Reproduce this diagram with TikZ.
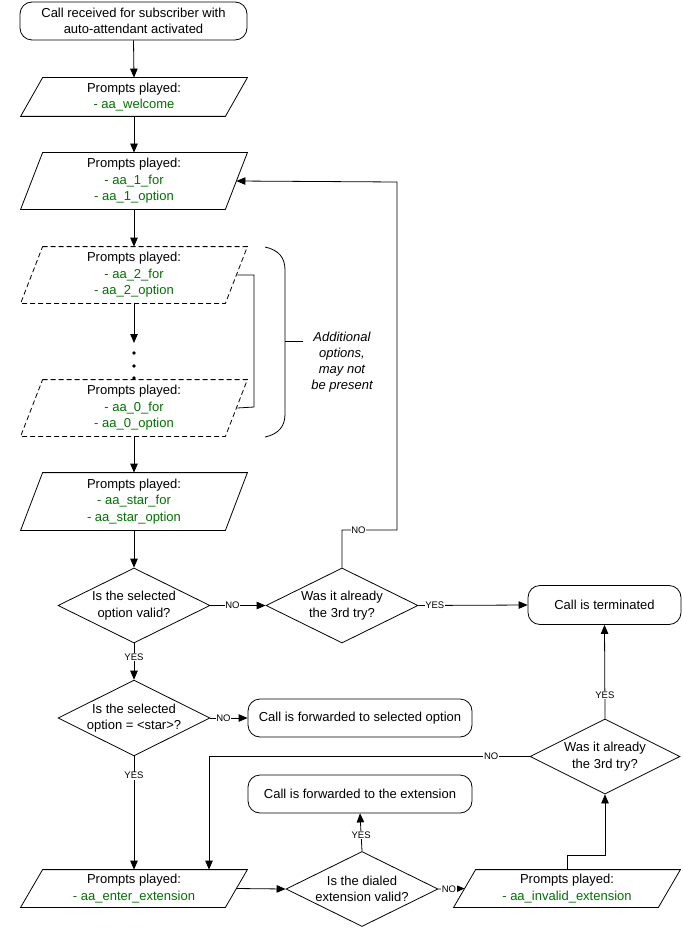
\documentclass[tikz,border=0pt]{standalone}
\usepackage{fontspec}
\setmainfont{Liberation Sans}
\usetikzlibrary{arrows.meta,shapes.geometric,calc}
\definecolor{prgreen}{RGB}{0,112,0}
\newcommand\drawpara[2][]{\draw[#1] ([xshift=22pt]#2.north west) -- (#2.north east) -- ([xshift=-22pt]#2.south east) -- (#2.south west) -- cycle;}
\begin{document}
\begin{tikzpicture}[x=1pt,y=-1pt,
  line width=0.8pt,
  every node/.style={font=\fontsize{13}{16.5}\selectfont, align=center},
  rbox/.style={draw, rounded corners=12pt, inner sep=0pt},
  parabox/.style={rectangle, inner sep=0pt, minimum width=226pt},
  dbox/.style={diamond, draw, inner sep=0pt, aspect=2},
  arr/.style={-{Triangle[length=9pt,width=7.5pt]}},
  lbl/.style={fill=white, inner sep=0.6pt, font=\fontsize{9.5}{10}\selectfont},
  dashpara/.style={dash pattern=on 5pt off 3pt}
]
\useasboundingbox (0,0) rectangle (682,928);

% nodes
\node[rbox, minimum width=227pt, minimum height=38pt] (start) at (133.5,21) {Call received for subscriber with\\auto-attendant activated};
\node[parabox, minimum height=38pt] (p1) at (134,97) {Prompts played:\\\textcolor{prgreen}{- aa\_welcome}};
\node[parabox, minimum height=56pt] (p2) at (134,181) {Prompts played:\\\textcolor{prgreen}{- aa\_1\_for}\\\textcolor{prgreen}{- aa\_1\_option}};
\node[parabox, minimum height=56pt] (p3) at (134,275) {Prompts played:\\\textcolor{prgreen}{- aa\_2\_for}\\\textcolor{prgreen}{- aa\_2\_option}};
\node[parabox, minimum height=56pt] (p4) at (134,408) {Prompts played:\\\textcolor{prgreen}{- aa\_0\_for}\\\textcolor{prgreen}{- aa\_0\_option}};
\node[parabox, minimum height=57pt] (p5) at (134,501.5) {Prompts played:\\\textcolor{prgreen}{- aa\_star\_for}\\\textcolor{prgreen}{- aa\_star\_option}};
\node[dbox, minimum width=152pt, minimum height=75pt] (d1) at (134,605.5) {Is the selected\\option valid?};
\node[dbox, minimum width=152pt, minimum height=75pt] (d2) at (342,605.5) {Was it already\\the 3rd try?};
\node[rbox, minimum width=153pt, minimum height=39pt] (term) at (604.5,605) {Call is terminated};
\node[dbox, minimum width=152pt, minimum height=75pt] (d3) at (134,718) {Is the selected\\option = <star>?};
\node[rbox, minimum width=224pt, minimum height=38pt] (fwdopt) at (360,718) {Call is forwarded to selected option};
\node[rbox, minimum width=224pt, minimum height=38pt] (fwdext) at (360,794) {Call is forwarded to the extension};
\node[parabox, minimum height=37pt] (p6) at (134,888.5) {Prompts played:\\\textcolor{prgreen}{- aa\_enter\_extension}};
\node[dbox, minimum width=152pt, minimum height=75pt] (d4) at (362,889) {Is the dialed\\extension valid?};
\node[parabox, minimum height=37pt] (p7) at (567,888.5) {Prompts played:\\\textcolor{prgreen}{- aa\_invalid\_extension}};
\node[dbox, minimum width=150pt, minimum height=75pt] (d5) at (605,756.5) {Was it already\\the 3rd try?};
\node[font=\itshape\fontsize{13}{16}\selectfont] (note) at (342,362) {Additional\\options,\\may not\\be present};

% parallelogram outlines
\drawpara{p1}
\drawpara{p2}
\drawpara[dashpara]{p3}
\drawpara[dashpara]{p4}
\drawpara{p5}
\drawpara{p6}
\drawpara{p7}

% helper coordinates
\coordinate (dotarrow) at (134,343);
\coordinate (loopA) at (342,530);
\coordinate (loopB) at (397,530);
\coordinate (loopC) at (397,182);
\coordinate (backA) at (209,756.5);
\coordinate (bendA) at (567,855);
\coordinate (bendB) at (605,855);
\coordinate (tick) at (303,341);

% connectors
\draw[arr] (start.south) -- (p1.north);
\draw[arr] (p1.south) -- (p2.north);
\draw[arr] (p2.south) -- (p3.north);
\draw[arr] (p3.south) -- (dotarrow);
\fill (134,353) circle (1.8pt) (134,366) circle (1.8pt) (134,378) circle (1.8pt);
\draw[arr] (p4.south) -- (p5.north);
\draw[arr] (p5.south) -- (d1.north);
\draw[arr] (d1.east) -- node[lbl, pos=0.4]{NO} (d2.west);
\draw[arr] (d2.east) -- node[lbl, pos=0.15]{YES} (term.west);
\draw[arr] (d2.north) -- (loopA) -- node[lbl, pos=0.3]{NO} (loopB) -- (loopC) -- ([xshift=-11pt]p2.east);
\draw[arr] (d1.south) -- node[lbl, pos=0.38]{YES} (d3.north);
\draw[arr] (d3.east) -- node[lbl, pos=0.35]{NO} (fwdopt.west);
\draw[arr] (d3.south) -- node[lbl, pos=0.17]{YES} (p6.north);
\draw[arr] ([xshift=-11pt]p6.east) -- (d4.west);
\draw[arr] (d4.north) -- node[lbl, pos=0.42]{YES} (fwdext.south);
\draw[arr] (d4.east) -- node[lbl, pos=0.4]{NO} ([xshift=11pt]p7.west);
\draw[arr] (p7.north) -- (bendA) -- (bendB) -- (d5.south);
\draw[arr] (d5.north) -- node[lbl, pos=0.25]{YES} (term.south);
\draw[arr] (d5.west) -- node[lbl, pos=0.12]{NO} (backA) -- ([xshift=75pt]p6.north);

% bracket and brace
\draw ([xshift=-10pt]p3.east) -- (254,275) -- (254,407) -- ([xshift=-10pt]p4.east);
\draw (265,247) .. controls (279,250) and (285,258) .. (285,270) -- (285,414) .. controls (285,426) and (279,434) .. (265,437);
\draw (285,341) -- (tick);
\end{tikzpicture}
\end{document}
